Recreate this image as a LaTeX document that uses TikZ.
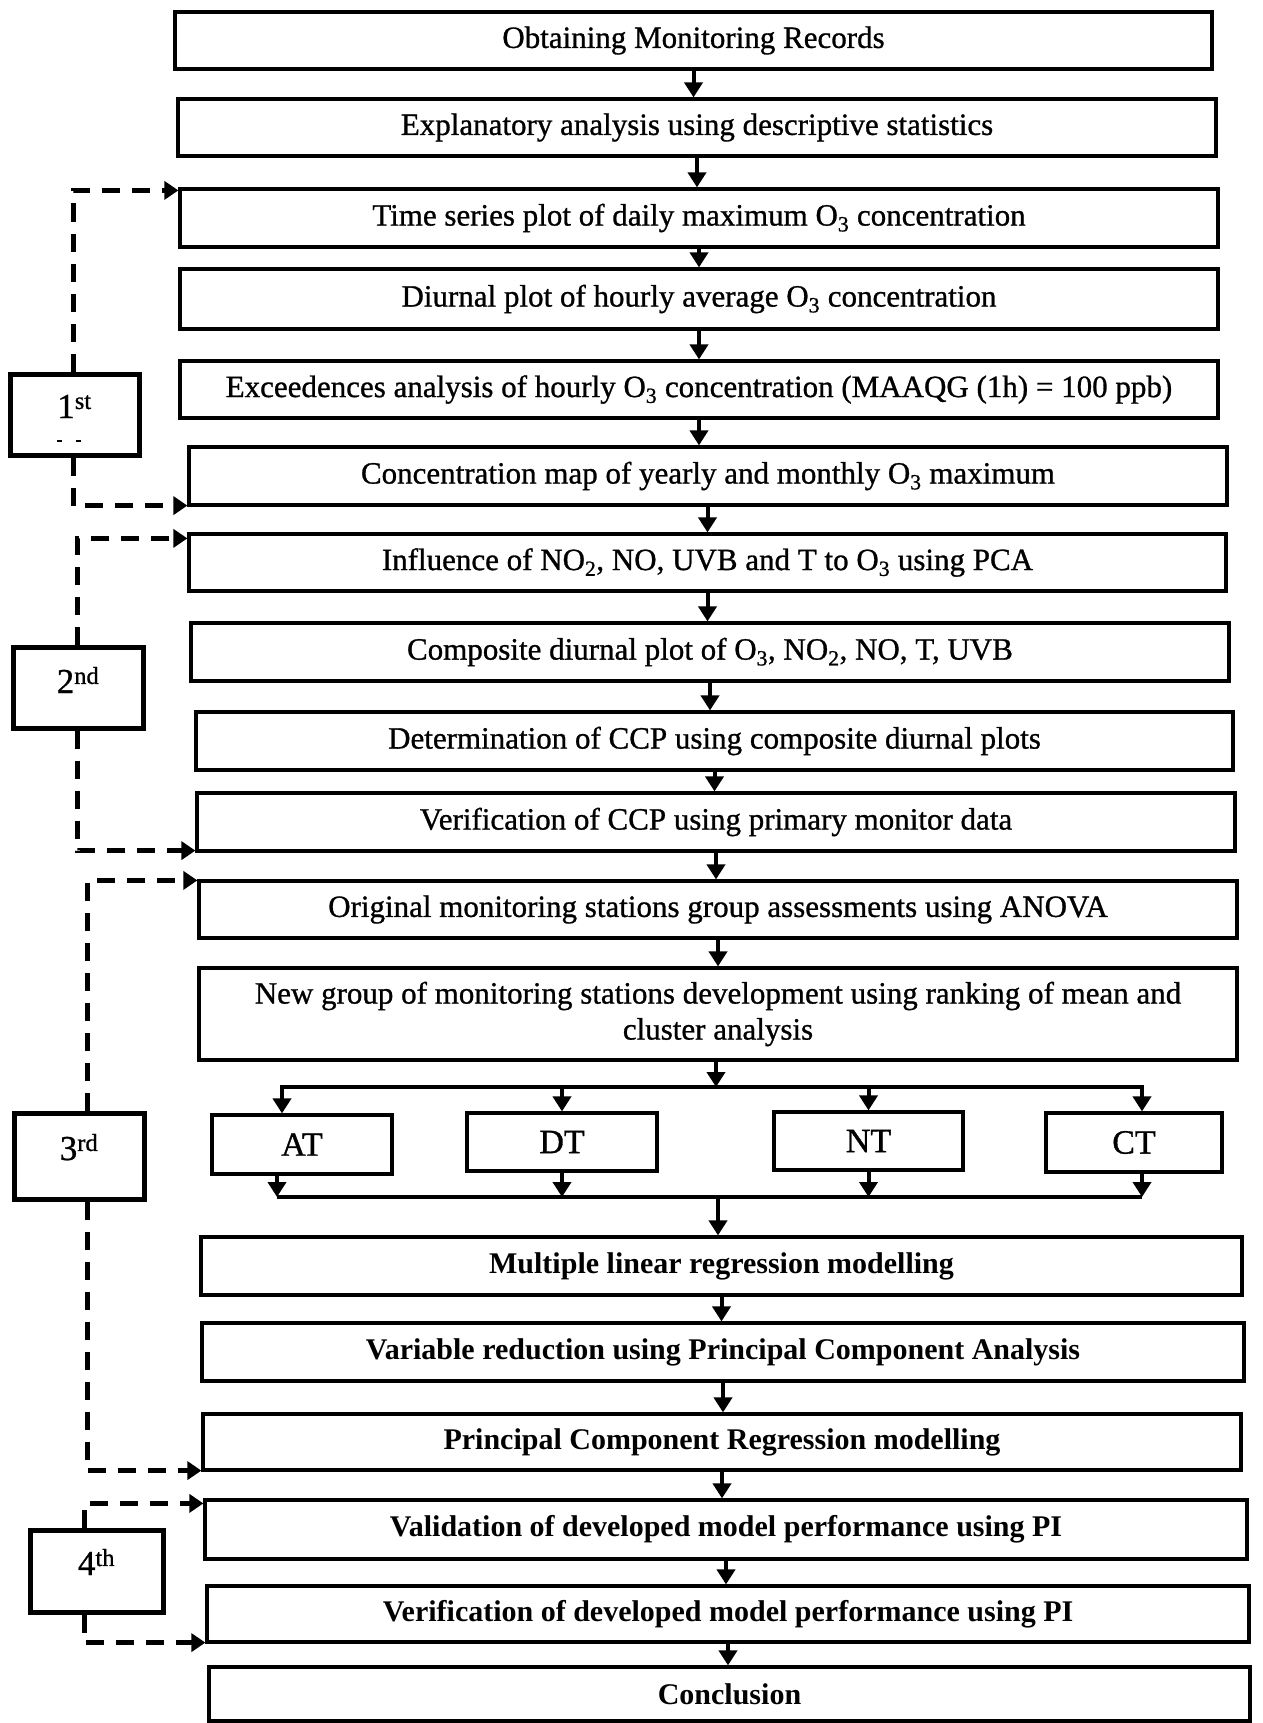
\documentclass[tikz,border=0pt]{standalone}
\usepackage{fontspec}
\setmainfont{Liberation Serif}
\newfontfamily\scanfont[FakeBold=0.9]{Liberation Serif}
\usetikzlibrary{arrows.meta}
\newcommand{\upf}{\scanfont\fontsize{31}{36}\selectfont}
\newcommand{\lof}{\fontsize{30}{36}\selectfont\bfseries}
\newcommand{\lblf}{\scanfont\fontsize{35}{40}\selectfont}
\newcommand{\grpf}{\scanfont\fontsize{34}{40}\selectfont}
\newcommand{\sbs}[1]{\textsubscript{#1}}
\begin{document}
\begin{tikzpicture}[x=1pt,y=-1pt,
  bx/.style={draw, line width=3.2pt, inner sep=0pt, font=\upf},
  lbx/.style={bx, font=\lof},
  gbx/.style={bx, font=\grpf},
  labbox/.style={draw, line width=5pt, inner sep=0pt},
  labtxt/.style={font=\lblf, inner sep=0pt, anchor=base},
  arr/.style={line width=4pt, -{Triangle[length=15pt,width=18pt]}},
  ln/.style={line width=4pt},
  dsh/.style={line width=5pt, dash pattern=on 18pt off 12pt, -{Triangle[length=14pt,width=18pt]}}]
\fill[white] (0,0) rectangle (1262,1723);
\useasboundingbox (0,0) rectangle (1262,1723);

% main boxes
\node[bx, minimum width=1037pt, minimum height=57pt] (b1) at (693.5,40.5) {Obtaining Monitoring Records};
\node[bx, minimum width=1038pt, minimum height=57pt] (b2) at (697,127.5) {Explanatory analysis using descriptive statistics};
\node[bx, minimum width=1038pt, minimum height=58pt] (b3) at (699,218) {Time series plot of daily maximum O\sbs{3} concentration};
\node[bx, minimum width=1038pt, minimum height=60pt] (b4) at (699,299) {Diurnal plot of hourly average O\sbs{3} concentration};
\node[bx, minimum width=1038pt, minimum height=57pt] (b5) at (699,389.5) {Exceedences analysis of hourly O\sbs{3} concentration (MAAQG (1h) = 100 ppb)};
\node[bx, minimum width=1038pt, minimum height=58pt] (b6) at (708,476) {Concentration map of yearly and monthly O\sbs{3} maximum};
\node[bx, minimum width=1037pt, minimum height=57pt] (b7) at (707.5,562.5) {Influence of NO\sbs{2}, NO, UVB and T to O\sbs{3} using PCA};
\node[bx, minimum width=1038pt, minimum height=58pt] (b8) at (710,652) {Composite diurnal plot of O\sbs{3}, NO\sbs{2}, NO, T, UVB};
\node[bx, minimum width=1037pt, minimum height=58pt] (b9) at (714.5,741) {Determination of CCP using composite diurnal plots};
\node[bx, minimum width=1038pt, minimum height=58pt] (b10) at (716,822) {Verification of CCP using primary monitor data};
\node[bx, minimum width=1038pt, minimum height=57pt] (b11) at (718,909.5) {Original monitoring stations group assessments using ANOVA};
\node[bx, minimum width=1038pt, minimum height=92pt, align=center] (b12) at (718,1014) {New group of monitoring stations development using ranking of mean and\\cluster analysis};

\node[gbx, minimum width=180pt, minimum height=59pt] (at) at (302,1144.5) {AT};
\node[gbx, minimum width=190pt, minimum height=58pt] (dt) at (562,1142) {DT};
\node[gbx, minimum width=189pt, minimum height=58pt] (nt) at (868.5,1141) {NT};
\node[gbx, minimum width=176pt, minimum height=59pt] (ct) at (1134,1142.5) {CT};

\node[lbx, minimum width=1041pt, minimum height=58pt] (b13) at (721.5,1266) {Multiple linear regression modelling};
\node[lbx, minimum width=1042pt, minimum height=58pt] (b14) at (723,1352) {Variable reduction using Principal Component Analysis};
\node[lbx, minimum width=1038pt, minimum height=56pt] (b15) at (722,1442) {Principal Component Regression modelling};
\node[lbx, minimum width=1042pt, minimum height=59pt] (b16) at (726,1529.5) {Validation of developed model performance using PI};
\node[lbx, minimum width=1042pt, minimum height=56pt] (b17) at (728,1614) {Verification of developed model performance using PI};
\node[lbx, minimum width=1041pt, minimum height=54pt] (b18) at (729.5,1694) {Conclusion};

% stage labels
\node[labbox, minimum width=129pt, minimum height=81pt] (l1) at (74.5,414.5) {};
\node[labbox, minimum width=130pt, minimum height=81pt] (l2) at (78,687.5) {};
\node[labbox, minimum width=130pt, minimum height=86pt] (l3) at (79,1156) {};
\node[labbox, minimum width=133pt, minimum height=82pt] (l4) at (96.5,1571) {};
\node[labtxt] (t1) at (74.5,418) {1\textsuperscript{st}};
\node[labtxt] (t2) at (78,693) {2\textsuperscript{nd}};
\node[labtxt] (t3) at (79,1160) {3\textsuperscript{rd}};
\node[labtxt] (t4) at (96.5,1575) {4\textsuperscript{th}};
\draw[line width=2pt] (57,441) -- (62,441) (76,441) -- (81,441);

% main flow arrows
\draw[arr] (b1) -- (b1 |- b2.north);
\draw[arr] (b2) -- (b2 |- b3.north);
\draw[arr] (b3) -- (b3 |- b4.north);
\draw[arr] (b4) -- (b4 |- b5.north);
\draw[arr] (b5) -- (b5 |- b6.north);
\draw[arr] (b7 |- b6.south) -- (b7.north);
\draw[arr] (b7) -- (b7 |- b8.north);
\draw[arr] (b8) -- (b8 |- b9.north);
\draw[arr] (b9) -- (b9 |- b10.north);
\draw[arr] (b10) -- (b10 |- b11.north);
\draw[arr] (b11) -- (b11 |- b12.north);

% branching
\coordinate (br) at (716,1087);
\coordinate (brL) at (282,1087);
\coordinate (brR) at (1142,1087);
\draw[arr] (b12.south -| br) -- (br);
\draw[arr] (br) -- (brL) -- (brL |- at.north);
\draw[arr] (br) -- (brR) -- (brR |- ct.north);
\draw[arr] (dt.north |- br) -- (dt.north);
\draw[arr] (nt.north |- br) -- (nt.north);

\coordinate (jn) at (718,1197);
\coordinate (jnL) at (277,1197);
\coordinate (jnR) at (1142,1197);
\draw[ln] (jnL) -- (jnR);
\draw[arr] (at.south -| jnL) -- (jnL);
\draw[arr] (dt.south) -- (dt.south |- jn);
\draw[arr] (nt.south) -- (nt.south |- jn);
\draw[arr] (ct.south -| jnR) -- (jnR);
\draw[arr] (jn) -- (jn |- b13.north);

\draw[arr] (b13) -- (b13 |- b14.north);
\draw[arr] (b14) -- (b14 |- b15.north);
\draw[arr] (b15) -- (b15 |- b16.north);
\draw[arr] (b16) -- (b16 |- b17.north);
\draw[arr] (b17) -- (b17 |- b18.north);

% dashed stage brackets
\draw[dsh] ([xshift=-1.5pt]l1.north) |- ([yshift=-3pt]b3.north west);
\draw[dsh] ([xshift=-1.5pt]l1.south) |- ([yshift=1pt]b6.south west);
\draw[dsh] ([xshift=-1pt]l2.north) |- ([yshift=-6pt]b7.north west);
\draw[dsh] ([xshift=-1pt]l2.south) |- ([yshift=2pt]b10.south west);
\draw[dsh] ([xshift=8pt]l3.north) |- ([yshift=-1pt]b11.north west);
\draw[dsh] ([xshift=8pt]l3.south) |- ([yshift=1pt]b15.south west);
\draw[dsh] ([xshift=-12pt]l4.north) |- ([yshift=-5pt]b16.north west);
\draw[dsh] ([xshift=-12pt]l4.south) |- ([yshift=1pt]b17.south west);
\end{tikzpicture}
\end{document}
